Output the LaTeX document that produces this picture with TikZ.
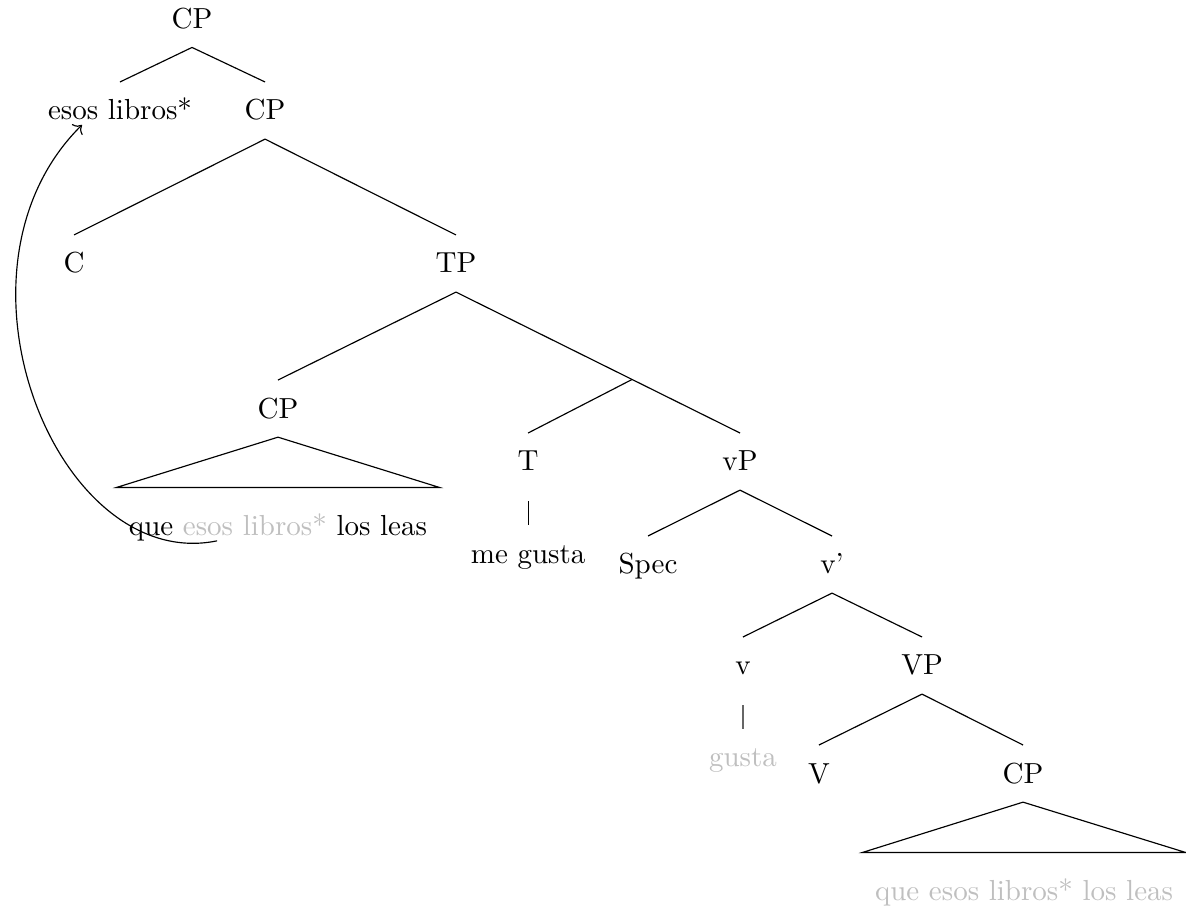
\documentclass[tikz,border=0pt]{standalone}
\usepackage{xcolor}
\usepackage{tikz}
\usetikzlibrary{arrows.meta, calc}

\begin{document}
\begin{tikzpicture}[
  lbl/.style={anchor=base, inner xsep=3pt, inner ysep=3pt,
              text height=9.9pt, text depth=3.4pt},
  roof/.style={lbl, inner xsep=4.1pt, text height=13.2pt},
  trace/.style={lightgray},
  bar/.style={shorten <=3.8pt},
]
  \useasboundingbox (0,0) rectangle (14.373,-11.053);

  % === Upper CP layer ===
  \node[lbl] (cptop) at (2.327, -0.343) {CP};
  \node[lbl] (mover) at (1.454, -1.454) {esos libros*};
  \node[lbl] (cpbar) at (3.212, -1.454) {CP};
  \node[lbl] (c)     at (0.897, -3.308) {C};
  \node[lbl] (tp)    at (5.526, -3.308) {TP};

  \draw (cptop.south) -- (mover.north);
  \draw (cptop.south) -- (cpbar.north);
  \draw (cpbar.south) -- (c.north);
  \draw (cpbar.south) -- (tp.north);

  % === Subject clause (roof) ===
  \node[lbl]  (cpsubj)   at (3.369, -5.066) {CP};
  \node[roof] (subjtext) at (3.369, -6.484)
    {que \textcolor{lightgray}{esos libros*} los leas};
  \draw (cpsubj.south) -- (subjtext.north east)
    -- (subjtext.north west) -- cycle;

  % === TP ===
  \node[lbl] (t)     at (6.400, -5.708) {T};
  \node[lbl] (vp)    at (8.968, -5.708) {vP};
  \node[lbl] (tword) at (6.400, -6.823) {me gusta};

  \draw (tp.south) -- (cpsubj.north);
  \draw (tp.south) -- (vp.north);
  \coordinate (tjoin) at ($(tp.south)!0.62!(vp.north)$);
  \draw (tjoin) -- (t.north);
  \draw[bar] (t.south) -- (tword.north);

  % === vP ===
  \node[lbl] (spec)  at (7.853, -6.956) {Spec};
  \node[lbl] (vbar)  at (10.083, -6.956) {v'};
  \node[lbl] (v)     at (9.004, -8.180) {v};
  \node[lbl] (vpbig) at (11.174, -8.180) {VP};
  \node[lbl, trace] (vword) at (9.004, -9.295) {gusta};

  \draw (vp.south) -- (spec.north);
  \draw (vp.south) -- (vbar.north);
  \draw (vbar.south) -- (v.north);
  \draw (vbar.south) -- (vpbig.north);
  \draw[bar, black!60] (v.south) -- (vword.north);

  % === VP ===
  \node[lbl]  (vhead)   at (9.925, -9.489) {V};
  \node[lbl]  (cpobj)   at (12.398, -9.489) {CP};
  \node[roof, trace] (objtext) at (12.410, -10.907)
    {que esos libros* los leas};

  \draw (vpbig.south) -- (vhead.north);
  \draw (vpbig.south) -- (cpobj.north);
  \draw (cpobj.south) -- (objtext.north east)
    -- (objtext.north west) -- cycle;

  % === Movement arrow ===
  \coordinate (gap)     at ([xshift=-21pt, yshift=-2pt]subjtext.base);
  \coordinate (landing) at ([xshift=-13.1pt, yshift=-1.7pt]mover.base);
  \draw[->] (gap) .. controls +(-1.94,-0.40) and +(-1.78,-1.76) .. (landing);

\end{tikzpicture}
\end{document}
